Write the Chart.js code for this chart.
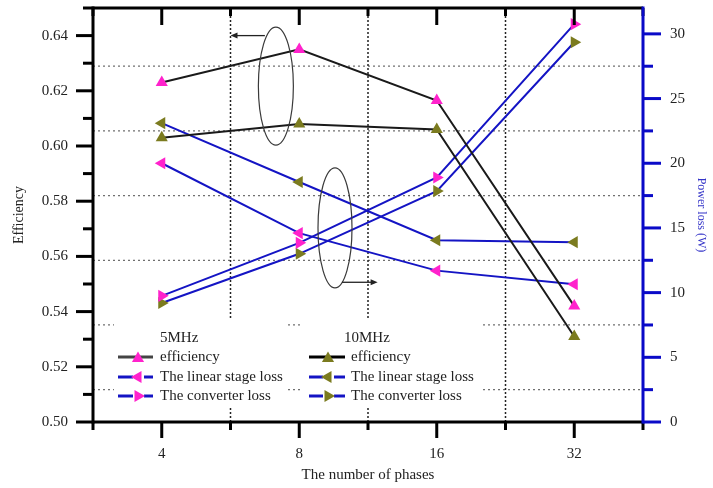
<!DOCTYPE html>
<html><head><meta charset="utf-8">
<script src="https://cdn.jsdelivr.net/npm/chart.js@4.4.0/dist/chart.umd.min.js"></script>
<style>html,body{margin:0;padding:0;background:#fff;} canvas{display:block;}</style>
</head><body>
<canvas id="c" width="713" height="488"></canvas>
<script>
// ---- data ----
const categories = ['4', '8', '16', '32'];
const efficiency5MHz  = [0.623, 0.635, 0.6165, 0.542];
const efficiency10MHz = [0.603, 0.608, 0.606, 0.531];
const linearLoss5MHz  = [20.0, 14.6, 11.7, 10.65];
const linearLoss10MHz = [23.1, 18.55, 14.05, 13.9];
const convLoss5MHz    = [9.75, 13.85, 18.9, 30.75];
const convLoss10MHz   = [9.2, 13.0, 17.85, 29.35];
const leftTickLabels  = ['0.50', '0.52', '0.54', '0.56', '0.58', '0.60', '0.62', '0.64'];
const rightTickLabels = ['0', '5', '10', '15', '20', '25', '30'];
const legendGroups = ['5MHz', '10MHz'];
const legendItems = ['efficiency', 'The linear stage loss', 'The converter loss'];

const SERIF = "'Liberation Serif', 'Times New Roman', serif";
const MAGENTA = '#ff22cc';
const OLIVE = '#7b7b1f';
const BLUE = '#1414c4';
const AXISBLUE = '#0a0ac8';

function ds(label, data, axis, lineColor, pointColor, rotation) {
  return {
    label, data, yAxisID: axis,
    borderColor: lineColor, borderWidth: 2,
    pointStyle: 'triangle', pointRotation: rotation, pointRadius: 7,
    pointBackgroundColor: pointColor, pointBorderColor: pointColor, pointBorderWidth: 0,
    tension: 0, fill: false
  };
}

const datasets = [
  ds('5MHz efficiency', efficiency5MHz, 'y', '#1a1a1a', MAGENTA, 0),
  ds('10MHz efficiency', efficiency10MHz, 'y', '#1a1a1a', OLIVE, 0),
  ds('5MHz The linear stage loss', linearLoss5MHz, 'y1', BLUE, MAGENTA, -90),
  ds('10MHz The linear stage loss', linearLoss10MHz, 'y1', BLUE, OLIVE, -90),
  ds('5MHz The converter loss', convLoss5MHz, 'y1', BLUE, MAGENTA, 90),
  ds('10MHz The converter loss', convLoss10MHz, 'y1', BLUE, OLIVE, 90)
];

function seg(ctx, x1, y1, x2, y2) { ctx.beginPath(); ctx.moveTo(x1, y1); ctx.lineTo(x2, y2); ctx.stroke(); }
function tri(ctx, x, y, r, rotDeg, color) {
  ctx.save(); ctx.fillStyle = color; ctx.beginPath();
  let rad = rotDeg * Math.PI / 180;
  for (let k = 0; k < 3; k++) {
    const px = x + Math.sin(rad) * r, py = y - Math.cos(rad) * r;
    if (k === 0) ctx.moveTo(px, py); else ctx.lineTo(px, py);
    rad += 2 * Math.PI / 3;
  }
  ctx.closePath(); ctx.fill(); ctx.restore();
}
function arrow(ctx, x1, y, x2) {
  ctx.save(); ctx.strokeStyle = '#222'; ctx.fillStyle = '#222'; ctx.lineWidth = 1.3;
  const dir = Math.sign(x2 - x1);
  seg(ctx, x1, y, x2 - dir * 5, y);
  ctx.beginPath(); ctx.moveTo(x2, y); ctx.lineTo(x2 - dir * 7, y - 3); ctx.lineTo(x2 - dir * 7, y + 3); ctx.closePath(); ctx.fill();
  ctx.restore();
}
function noPad(s) { s.paddingTop = 0; s.paddingBottom = 0; s.paddingLeft = 0; s.paddingRight = 0; }

const decor = {
  id: 'decor',
  beforeDatasetsDraw(chart) {
    const {ctx, chartArea: a, scales: {x, y1}} = chart;
    ctx.save();
    ctx.strokeStyle = '#707070'; ctx.lineWidth = 1.3; ctx.setLineDash([2, 3]);
    y1.ticks.forEach(t => {
      if (t.value % 5 !== 0 && t.value < 31) { const py = y1.getPixelForValue(t.value); seg(ctx, a.left, py, a.right, py); }
    });
    ctx.strokeStyle = '#222'; ctx.lineWidth = 1.5; ctx.setLineDash([2, 2]);
    for (let i = 0; i < categories.length - 1; i++) {
      const px = x.getPixelForValue(i + 0.5); seg(ctx, px, a.top, px, a.bottom);
    }
    ctx.restore();
  },
  afterDatasetsDraw(chart) {
    const {ctx, chartArea: a, scales: {x, y, y1}} = chart;
    ctx.save();
    // ---- annotations (ellipses + arrows) ----
    ctx.strokeStyle = '#3a3a3a'; ctx.lineWidth = 1.2;
    let cx = x.getPixelForValue(0.83), cy = y.getPixelForValue(0.6217);
    ctx.beginPath(); ctx.ellipse(cx, cy, 17.5, 59, 0, 0, 2 * Math.PI); ctx.stroke();
    arrow(ctx, x.getPixelForValue(0.75), y.getPixelForValue(0.64), x.getPixelForValue(0.5));
    cx = x.getPixelForValue(1.26); cy = y1.getPixelForValue(15.0);
    ctx.beginPath(); ctx.ellipse(cx, cy, 17, 60, 0, 0, 2 * Math.PI); ctx.stroke();
    arrow(ctx, x.getPixelForValue(1.31), y1.getPixelForValue(10.8), x.getPixelForValue(1.57));

    // ---- legend ----
    const blocks = [
      {bx: 114, bw: 174, sx1: 118, sx2: 153, mx: 138, tx: 160, hx: 160, effLine: '#444', color: MAGENTA},
      {bx: 303, bw: 177, sx1: 309, sx2: 345, mx: 328, tx: 351, hx: 344, effLine: '#000', color: OLIVE}
    ];
    const rows = [357, 377, 396];
    const rots = [0, -90, 90];
    ctx.font = '15px ' + SERIF; ctx.textBaseline = 'middle'; ctx.textAlign = 'left';
    blocks.forEach((b, gi) => {
      ctx.fillStyle = '#fff'; ctx.fillRect(b.bx, 320, b.bw, 88);
      ctx.fillStyle = '#222'; ctx.fillText(legendGroups[gi], b.hx, 338);
      rows.forEach((ry, ri) => {
        ctx.lineWidth = 3; ctx.setLineDash([]);
        if (ri === 0) { ctx.strokeStyle = b.effLine; seg(ctx, b.sx1, ry, b.sx2, ry); }
        else { ctx.strokeStyle = BLUE; seg(ctx, b.sx1, ry, b.mx - 5, ry); seg(ctx, b.mx + 6, ry, b.sx2, ry); }
        tri(ctx, b.mx, ry + (ri === 0 ? 1.5 : 0), 7, rots[ri], b.color);
        ctx.fillStyle = '#222'; ctx.fillText(legendItems[ri], b.tx, ry);
      });
    });

    // ---- axes frame and tick marks ----
    ctx.setLineDash([]); ctx.lineWidth = 3; ctx.strokeStyle = '#000';
    seg(ctx, a.left, a.top, a.right, a.top);
    seg(ctx, a.left, a.bottom, a.right, a.bottom);
    seg(ctx, a.left, a.top - 1.5, a.left, a.bottom + 1.5);
    y.ticks.forEach(t => {
      const py = y.getPixelForValue(t.value);
      const major = leftTickLabels.includes(t.value.toFixed(2));
      seg(ctx, a.left - (major ? 17 : 10), py, a.left, py);
    });
    for (let i = 0; i < categories.length; i++) {
      const px = x.getPixelForValue(i);
      seg(ctx, px, a.bottom, px, a.bottom + 16);
      seg(ctx, px, a.top, px, a.top + 17);
    }
    for (let i = 0; i <= categories.length; i++) {
      const px = x.getPixelForValue(i - 0.5);
      seg(ctx, px, a.bottom, px, a.bottom + 8);
      seg(ctx, px, a.top, px, a.top + 8);
    }
    ctx.strokeStyle = AXISBLUE;
    seg(ctx, a.right, a.top - 1.5, a.right, a.bottom + 1.5);
    y1.ticks.forEach(t => {
      if (t.value > 30.1) return;
      const py = y1.getPixelForValue(t.value);
      const major = rightTickLabels.includes(String(t.value));
      seg(ctx, a.right, py, a.right + (major ? 18 : 10), py);
    });
    ctx.restore();
  }
};

new Chart(document.getElementById('c'), {
  type: 'line',
  data: {labels: categories, datasets},
  options: {
    responsive: false, animation: false, devicePixelRatio: 1, events: [],
    layout: {padding: {top: 8, left: 0, right: 0, bottom: 0}},
    plugins: {legend: {display: false}, tooltip: {enabled: false}},
    scales: {
      x: {
        type: 'category', offset: true,
        grid: {display: false, drawTicks: false, tickLength: 0}, border: {display: false},
        ticks: {font: {family: SERIF, size: 15}, color: '#222', padding: 23},
        title: {display: true, text: 'The number of phases', font: {family: SERIF, size: 15}, color: '#222', padding: {top: 0, bottom: 4}},
        afterFit(s) { s.height = 66; noPad(s); }
      },
      y: {
        position: 'left', min: 0.5, max: 0.65,
        grid: {display: false, drawTicks: false, tickLength: 0}, border: {display: false},
        ticks: {
          stepSize: 0.01, autoSkip: false, font: {family: SERIF, size: 15}, color: '#222', padding: 25,
          callback: v => { const s = Number(v).toFixed(2); return leftTickLabels.includes(s) ? s : ''; }
        },
        title: {display: true, text: 'Efficiency', font: {family: SERIF, size: 14}, color: '#222', padding: {top: 11, bottom: 0}},
        afterFit(s) { s.width = 93; noPad(s); }
      },
      y1: {
        position: 'right', min: 0, max: 32,
        grid: {display: false, drawTicks: false, tickLength: 0}, border: {display: false},
        afterBuildTicks(s) { s.ticks = s.ticks.filter(t => t.value <= 31); },
        ticks: {
          stepSize: 2.5, autoSkip: false, font: {family: SERIF, size: 15}, color: '#222', padding: 27,
          callback: v => { const s = String(v); return rightTickLabels.includes(s) ? s : ''; }
        },
        title: {display: true, text: 'Power loss (W)', font: {family: SERIF, size: 12}, color: '#3535c8', padding: {top: 5, bottom: 0}},
        afterFit(s) { s.width = 70; noPad(s); }
      }
    }
  },
  plugins: [decor]
});
</script>
</body></html>
